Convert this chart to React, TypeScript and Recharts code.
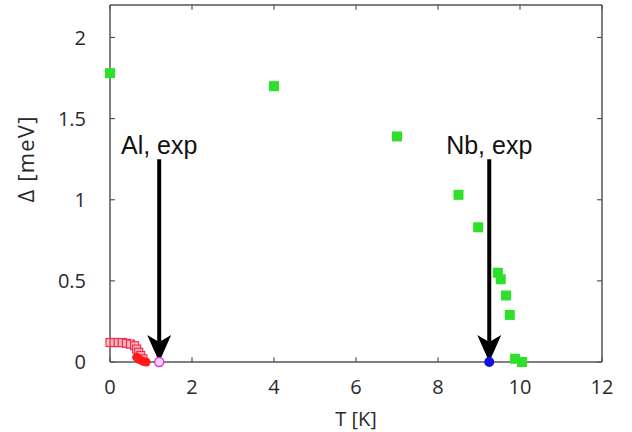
import React from 'react';
import { ScatterChart, Scatter, XAxis, YAxis, ReferenceLine } from 'recharts';

// Nb, green squares
const nbTemps = [0, 4, 7, 8.5, 8.98, 9.46, 9.53, 9.66, 9.75, 9.88, 10.05];
const nbGaps = [1.78, 1.7, 1.39, 1.03, 0.83, 0.55, 0.51, 0.41, 0.29, 0.02, 0.0];

// Al, open pink squares
const alOpenTemps = [0, 0.1, 0.2, 0.3, 0.4, 0.5, 0.6, 0.65, 0.7, 0.75, 0.8];
const alOpenGaps = [0.12, 0.12, 0.12, 0.12, 0.115, 0.11, 0.1, 0.08, 0.06, 0.04, 0.02];

// Al, filled red
const alFilledTemps = [0.65, 0.72, 0.8, 0.88];
const alFilledGaps = [0.03, 0.015, 0.005, 0.0];

// experimental Tc markers
const alTc = 1.2;
const nbTc = 9.25;
const arrowTop = 1.25;

const xTicks = [0, 2, 4, 6, 8, 10, 12];
const yTicks = [0, 0.5, 1, 1.5, 2];
const xMax = 12;
const yMax = 2.2;
// inner tick lengths, in data units (about 5px)
const xTickLen = 0.03;
const yTickLen = 0.12;

const zip = (xs: number[], ys: number[]) => xs.map((x, i) => ({ x, y: ys[i] }));

const nbData = zip(nbTemps, nbGaps);
const alOpenData = zip(alOpenTemps, alOpenGaps);
const alFilledData = zip(alFilledTemps, alFilledGaps);
const alTcData = [{ x: alTc, y: 0 }];
const nbTcData = [{ x: nbTc, y: 0 }];

const axisColor = '#555';
const tickFont = { fontSize: 20, fill: '#2a2a2a', fontFamily: 'Open Sans' };

const greenSquare = (p: any) => (
  <rect x={p.cx - 5} y={p.cy - 5} width={10} height={10} fill="#2ee02a" />
);
const pinkSquare = (p: any) => (
  <rect x={p.cx - 4} y={p.cy - 4} width={8} height={8} fill="#ffb3c0" fillOpacity={0.8} stroke="#f2304d" strokeWidth={1.2} />
);
const redDot = (p: any) => <circle cx={p.cx} cy={p.cy} r={4.5} fill="#ff1a1a" />;
const magentaRing = (p: any) => (
  <circle cx={p.cx} cy={p.cy} r={4.5} fill="#ffd0ff" stroke="#d63cd6" strokeWidth={1.5} />
);
const blueDot = (p: any) => <circle cx={p.cx} cy={p.cy} r={5} fill="#1010e0" />;

const arrow = (label: string) => (p: any) => {
  const x = p.x1;
  const top = Math.min(p.y1, p.y2);
  const tip = Math.max(p.y1, p.y2);
  const head = 27;
  const half = 12;
  const notch = 7;
  return (
    <g>
      <line x1={x} y1={top} x2={x} y2={tip - head + notch + 1} stroke="#000" strokeWidth={4} />
      <path
        d={`M${x},${tip} L${x - half},${tip - head} L${x},${tip - head + notch} L${x + half},${tip - head} Z`}
        fill="#000"
      />
      <text x={x} y={top - 5} textAnchor="middle" fontSize={25} fontFamily="Liberation Sans, Arial, sans-serif" fill="#111">
        {label}
      </text>
    </g>
  );
};

const yLabel = (p: any) => {
  const vb = p.viewBox;
  const cx = vb.x + 25;
  const cy = vb.y + 154;
  return (
    <text x={cx} y={cy} transform={`rotate(-90 ${cx} ${cy})`} textAnchor="middle" dominantBaseline="central" fontSize={22} letterSpacing={1.2} fontFamily="Open Sans" fill="#2a2a2a">
      Δ [meV]
    </text>
  );
};

const xLabel = (p: any) => {
  const vb = p.viewBox;
  return (
    <text x={vb.x + vb.width / 2} y={418} textAnchor="middle" dominantBaseline="central" fontSize={20} fontFamily="Open Sans" fill="#2a2a2a">
      T [K]
    </text>
  );
};

export default function App() {
  const tickLine = { stroke: axisColor, strokeWidth: 1.2 };
  return (
    <div style={{ position: 'absolute', left: 0, top: 0, background: '#fff' }}>
      <ScatterChart width={632} height={432} margin={{ top: 5, right: 30, bottom: 0, left: 0 }}>
        <XAxis
          xAxisId="b"
          type="number"
          dataKey="x"
          domain={[0, xMax]}
          ticks={xTicks}
          height={70}
          tickLine={false}
          tickMargin={12}
          axisLine={{ stroke: axisColor, strokeWidth: 1.5 }}
          tick={tickFont}
          label={xLabel}
        />
        <YAxis
          yAxisId="l"
          type="number"
          dataKey="y"
          domain={[0, yMax]}
          ticks={yTicks}
          width={110}
          tickLine={false}
          tickMargin={18}
          axisLine={{ stroke: axisColor, strokeWidth: 1.5 }}
          tick={tickFont}
          label={yLabel}
        />

        {/* frame on top and right */}
        <ReferenceLine xAxisId="b" yAxisId="l" y={yMax} stroke={axisColor} strokeWidth={1.5} />
        <ReferenceLine xAxisId="b" yAxisId="l" x={xMax} stroke={axisColor} strokeWidth={1.5} />

        {/* inward ticks on all four sides */}
        {xTicks.map((t) => (
          <ReferenceLine key={`xb${t}`} xAxisId="b" yAxisId="l" segment={[{ x: t, y: 0 }, { x: t, y: xTickLen }]} {...tickLine} />
        ))}
        {xTicks.map((t) => (
          <ReferenceLine key={`xt${t}`} xAxisId="b" yAxisId="l" segment={[{ x: t, y: yMax }, { x: t, y: yMax - xTickLen }]} {...tickLine} />
        ))}
        {yTicks.map((t) => (
          <ReferenceLine key={`yl${t}`} xAxisId="b" yAxisId="l" segment={[{ x: 0, y: t }, { x: yTickLen, y: t }]} {...tickLine} />
        ))}
        {yTicks.map((t) => (
          <ReferenceLine key={`yr${t}`} xAxisId="b" yAxisId="l" segment={[{ x: xMax, y: t }, { x: xMax - yTickLen, y: t }]} {...tickLine} />
        ))}

        <ReferenceLine xAxisId="b" yAxisId="l" segment={[{ x: alTc, y: arrowTop }, { x: alTc, y: 0 }]} ifOverflow="visible" shape={arrow('Al, exp')} />
        <ReferenceLine xAxisId="b" yAxisId="l" segment={[{ x: nbTc, y: arrowTop }, { x: nbTc, y: 0 }]} ifOverflow="visible" shape={arrow('Nb, exp')} />

        <Scatter xAxisId="b" yAxisId="l" data={alOpenData} shape={pinkSquare} isAnimationActive={false} />
        <Scatter xAxisId="b" yAxisId="l" data={alFilledData} shape={redDot} isAnimationActive={false} />
        <Scatter xAxisId="b" yAxisId="l" data={alTcData} shape={magentaRing} isAnimationActive={false} />
        <Scatter xAxisId="b" yAxisId="l" data={nbData} shape={greenSquare} isAnimationActive={false} />
        <Scatter xAxisId="b" yAxisId="l" data={nbTcData} shape={blueDot} isAnimationActive={false} />
      </ScatterChart>
    </div>
  );
}
